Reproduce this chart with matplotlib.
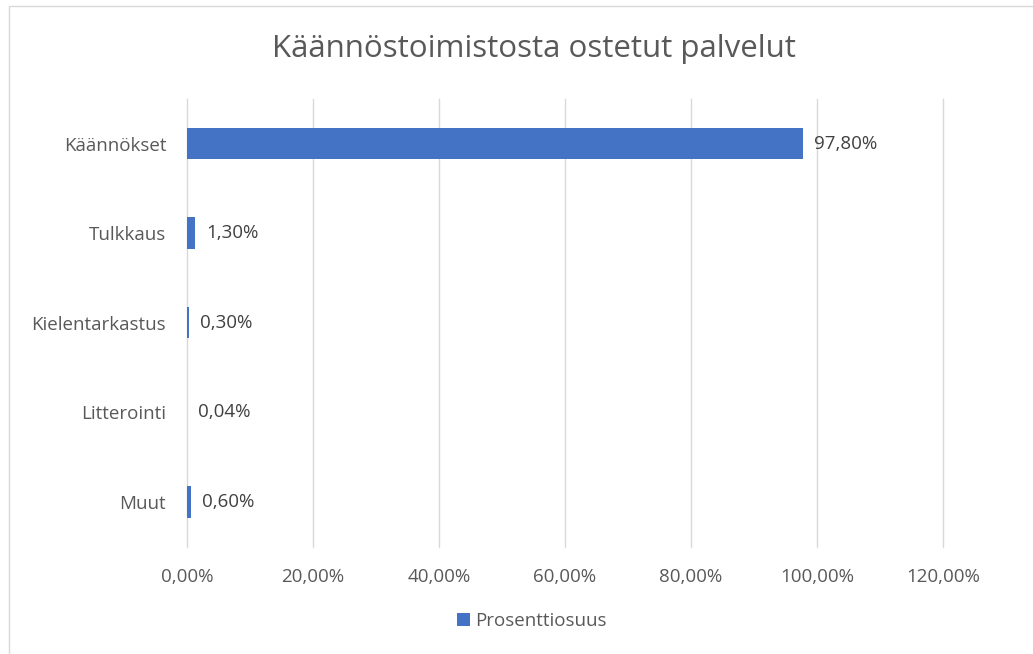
import matplotlib.pyplot as plt
from matplotlib.patches import Rectangle

categories = ['Käännökset', 'Tulkkaus', 'Kielentarkastus', 'Litterointi', 'Muut']
values = [97.80, 1.30, 0.30, 0.04, 0.60]
xticks = [0, 20, 40, 60, 80, 100, 120]

plt.rcParams['font.family'] = ['Open Sans', 'DejaVu Sans']
text_color = '#595959'
bar_color = '#4472C4'

fig = plt.figure(figsize=(10.33, 6.54), dpi=100)
ax = fig.add_axes([0.181, 0.164, 0.732, 0.685])

pos = list(range(len(categories)))
bars = ax.barh(pos, values, height=0.35, color=bar_color, label='Prosenttiosuus', zorder=3)
ax.set_ylim(len(categories) - 0.5, -0.5)
ax.set_xlim(0, 120)
ax.set_yticks(pos)
ax.set_yticklabels(categories)
ax.set_xticks(xticks)
ax.set_xticklabels([f'{v:.2f}%'.replace('.', ',') for v in xticks])
ax.tick_params(length=0, labelsize=13.5, colors=text_color)
ax.tick_params(axis='y', pad=15)
ax.tick_params(axis='x', pad=15)
ax.grid(axis='x', color='#d9d9d9', linewidth=1, zorder=0)
for line in ax.get_xgridlines():
    line.set_clip_on(False)
for s in ax.spines.values():
    s.set_visible(False)

for b, v in zip(bars, values):
    ax.annotate(f'{v:.2f}%'.replace('.', ','), (b.get_width(), b.get_y() + b.get_height() / 2),
                xytext=(8, 0), textcoords='offset points', va='center', ha='left',
                fontsize=13.5, color='#404040')

fig.suptitle('Käännöstoimistosta ostetut palvelut', x=0.517, y=0.948, fontsize=22.5, color=text_color)
fig.legend(loc='center', bbox_to_anchor=(0.515, 0.05), frameon=False, fontsize=13.5,
           labelcolor=text_color, handlelength=0.7, handleheight=0.7, handletextpad=0.3)

# chart frame, cut off at the right and bottom edges
fig.patches.append(Rectangle((9 / 1033, -0.05), 1.1, 1 - 6 / 654 + 0.05,
                             transform=fig.transFigure, fill=False, edgecolor='#d9d9d9', linewidth=1))

fig.savefig('out.png')
